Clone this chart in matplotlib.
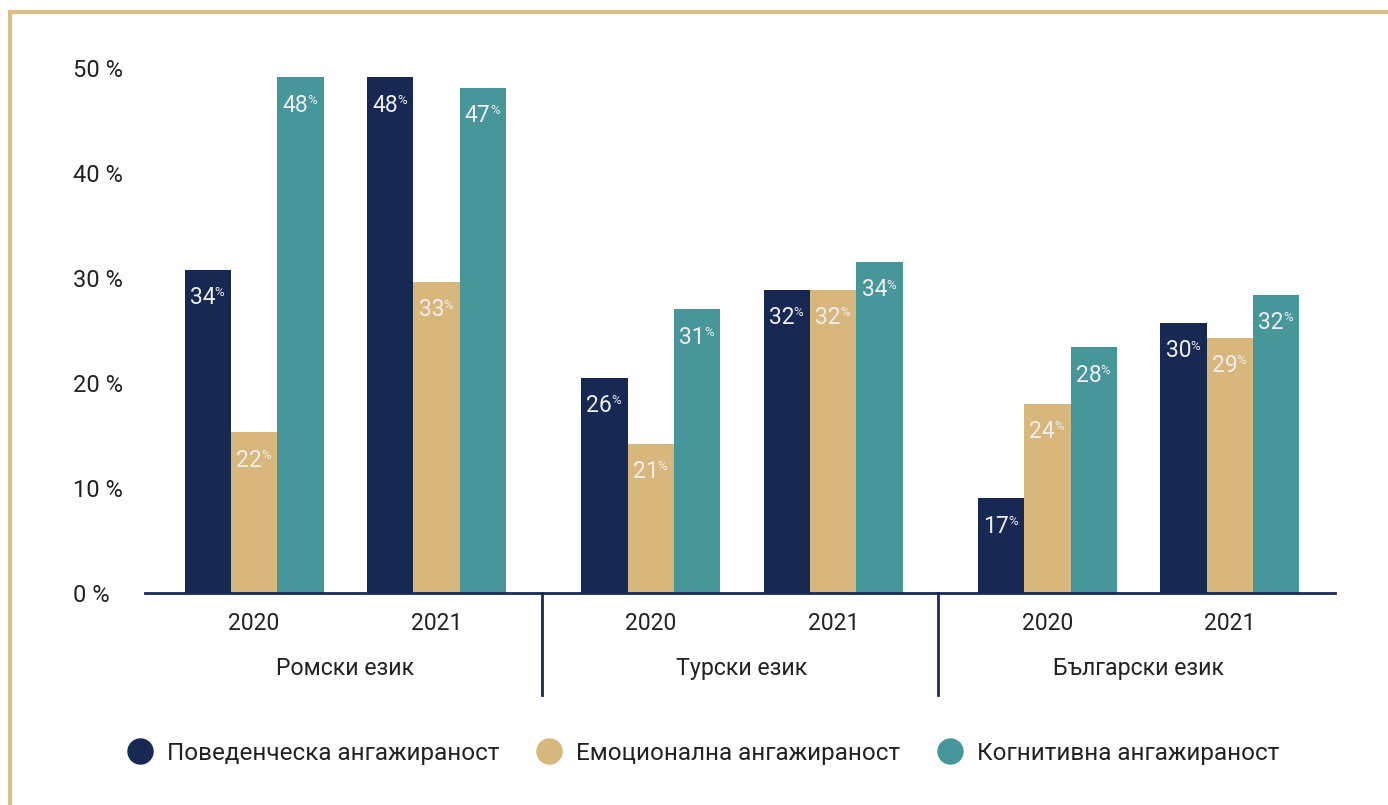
import matplotlib.pyplot as plt
from matplotlib.lines import Line2D
import numpy as np

plt.rcParams['font.family'] = ['Roboto', 'DejaVu Sans']

languages = ['Ромски език', 'Турски език', 'Български език']
years = ['2020', '2021']
series = ['Поведенческа ангажираност', 'Емоционална ангажираност', 'Когнитивна ангажираност']
colors = ['#172852', '#d8b77c', '#47969a']

# bar heights as drawn (Roma 2020, Roma 2021, Turkish 2020, Turkish 2021, Bulgarian 2020, Bulgarian 2021)
behav_h = [30.8, 49.1, 20.5, 28.9, 9.0, 25.7]
emot_h = [15.3, 29.6, 14.2, 28.9, 18.0, 24.3]
cogn_h = [49.1, 48.1, 27.0, 31.5, 23.4, 28.4]

# labels printed on the bars
behav_lbl = [34, 48, 26, 32, 17, 30]
emot_lbl = [22, 33, 21, 32, 24, 29]
cogn_lbl = [48, 47, 31, 34, 28, 32]

heights = [behav_h, emot_h, cogn_h]
labels = [behav_lbl, emot_lbl, cogn_lbl]

fig = plt.figure(figsize=(13.88, 8.05), dpi=100)
ax = fig.add_axes([0.1045, 0.2634, 0.8573, 0.6522])

year_off = [0.275, 0.735]
w = 0.117
centers = np.array([i + year_off[j] for i in range(3) for j in range(2)])

for k in range(3):
    xs = centers + (k - 1) * w
    ax.bar(xs, heights[k], width=w, color=colors[k], linewidth=0)
    for x, h, l in zip(xs, heights[k], labels[k]):
        ax.annotate(str(l), (x, h), xytext=(5.5, -20), textcoords='offset points',
                    ha='right', va='center', fontsize=16.5, color='#eeeeee')
        ax.annotate('%', (x, h), xytext=(5.0, -16.5), textcoords='offset points',
                    ha='left', va='center', fontsize=9.5, color='#eeeeee')

ax.set_xlim(0, 3)
ax.set_ylim(0, 50)
for s in ['top', 'right', 'left']:
    ax.spines[s].set_visible(False)
ax.spines['bottom'].set_color('#1b2a54')
ax.spines['bottom'].set_linewidth(2)

ax.set_yticks([0, 10, 20, 30, 40, 50])
ax.set_yticklabels(['0 %', '10 %', '20 %', '30 %', '40 %', '50 %'])
ax.tick_params(axis='y', length=0, pad=52, labelsize=17, labelcolor='#222222')
for t in ax.get_yticklabels():
    t.set_horizontalalignment('left')

ax.set_xticks(centers)
ax.set_xticklabels(years * 3)
ax.tick_params(axis='x', length=0, pad=13.5, labelsize=16.5, labelcolor='#222222')

trans = ax.get_xaxis_transform()
for i, name in enumerate(languages):
    ax.text(i + 0.505, -0.143, name, transform=trans, ha='center', va='center',
            fontsize=16.7, color='#222222')
for xsep in [1, 2]:
    ax.plot([xsep, xsep], [0, -0.195], transform=trans, color='#1b2a54',
            linewidth=2, clip_on=False)

handles = [Line2D([], [], marker='o', linestyle='', markersize=18,
                  markerfacecolor=c, markeredgecolor=c) for c in colors]
fig.legend(handles, series, loc='center', bbox_to_anchor=(0.507, 0.064), ncol=3,
           frameon=False, fontsize=17.5, handlelength=1.0, handletextpad=0.6,
           columnspacing=1.55, labelcolor='#222222')

# beige frame
fig.add_artist(Line2D([0.0075, 0.0075], [0, 0.985], color='#dcbf87', linewidth=3,
                      transform=fig.transFigure))
fig.add_artist(Line2D([0.0075, 1.0], [0.985, 0.985], color='#dcbf87', linewidth=3,
                      transform=fig.transFigure))

fig.savefig('out.png', dpi=100)
